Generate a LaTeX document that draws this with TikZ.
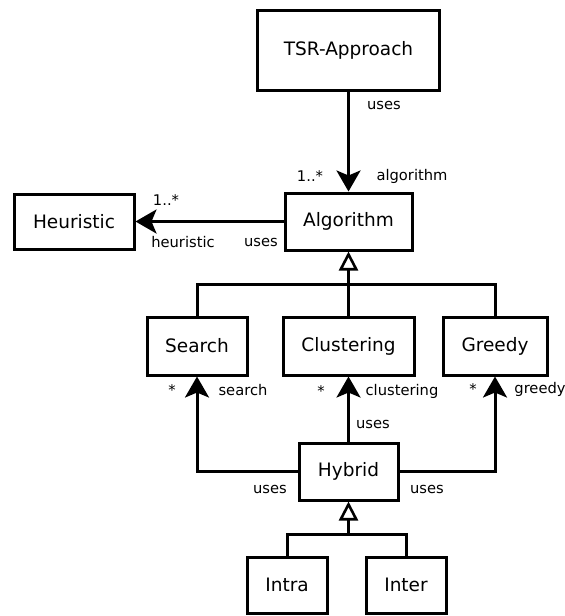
\documentclass[tikz,border=0pt]{standalone}
\usepackage{fontspec}
\setmainfont{DejaVu Sans}
\usetikzlibrary{arrows.meta}
\begin{document}
\begin{tikzpicture}[x=1pt,y=-1pt,
  cls/.style={draw,line width=3pt,inner sep=0pt,font=\fontsize{18.5}{22}\selectfont},
  lbl/.style={inner sep=0pt,font=\fontsize{14.7}{17}\selectfont},
  conn/.style={line width=3pt},
  usesarrow/.style={conn,-{Stealth[length=21pt,width=24pt,inset=5pt]}},
  inh/.style={conn,-{Triangle[open,length=19pt,width=19pt,line width=2.6pt]}}]
\useasboundingbox (0,0) rectangle (565,616);
\node[cls,minimum width=182pt,minimum height=80pt] (tsr) at (348.5,50) {TSR-Approach};
\node[cls,minimum width=127pt,minimum height=57pt] (alg) at (348.5,221.5) {Algorithm};
\node[cls,minimum width=120pt,minimum height=55pt] (heur) at (74,221.5) {Heuristic};
\node[cls,minimum width=100pt,minimum height=58pt] (search) at (197,346) {Search};
\node[cls,minimum width=131pt,minimum height=58pt] (clus) at (348.5,346) {Clustering};
\node[cls,minimum width=104pt,minimum height=58pt] (greedy) at (495,346) {Greedy};
\node[cls,minimum width=99pt,minimum height=57pt] (hyb) at (348.5,471.5) {Hybrid};
\node[cls,minimum width=80pt,minimum height=56pt] (intra) at (287,585) {Intra};
\node[cls,minimum width=80pt,minimum height=56pt] (inter) at (406,585) {Inter};
\coordinate (j1) at (348.5,284);
\coordinate (j2) at (348.5,534);
% associations
\draw[usesarrow] (tsr.south) -- (alg.north);
\draw[usesarrow] (alg.west) -- (heur.east);
\draw[usesarrow] (hyb.west) -| (search.south);
\draw[usesarrow] (hyb.north) -- (clus.south);
\draw[usesarrow] (hyb.east) -| (greedy.south);
% generalizations
\draw[conn] (search.north) |- (j1) -| (greedy.north);
\draw[inh] (clus.north) -- (alg.south);
\draw[conn] (intra.north) |- (j2) -| (inter.north);
\draw[inh] (j2) -- (hyb.south);
% labels
\node[lbl] (l1) at (384,105) {uses};
\node[lbl] (l2) at (310,176) {1..*};
\node[lbl] (l3) at (412,176) {algorithm};
\node[lbl] (l4) at (166,200) {1..*};
\node[lbl] (l5) at (183,242) {heuristic};
\node[lbl] (l6) at (261,242) {uses};
\node[lbl] (l7) at (172,390) {*};
\node[lbl] (l8) at (243,390) {search};
\node[lbl] (l9) at (321,391) {*};
\node[lbl] (l10) at (402,391) {clustering};
\node[lbl] (l11) at (473,389) {*};
\node[lbl] (l12) at (540,389) {greedy};
\node[lbl] (l13) at (373,424) {uses};
\node[lbl] (l14) at (270,489) {uses};
\node[lbl] (l15) at (427,489) {uses};
\end{tikzpicture}
\end{document}
